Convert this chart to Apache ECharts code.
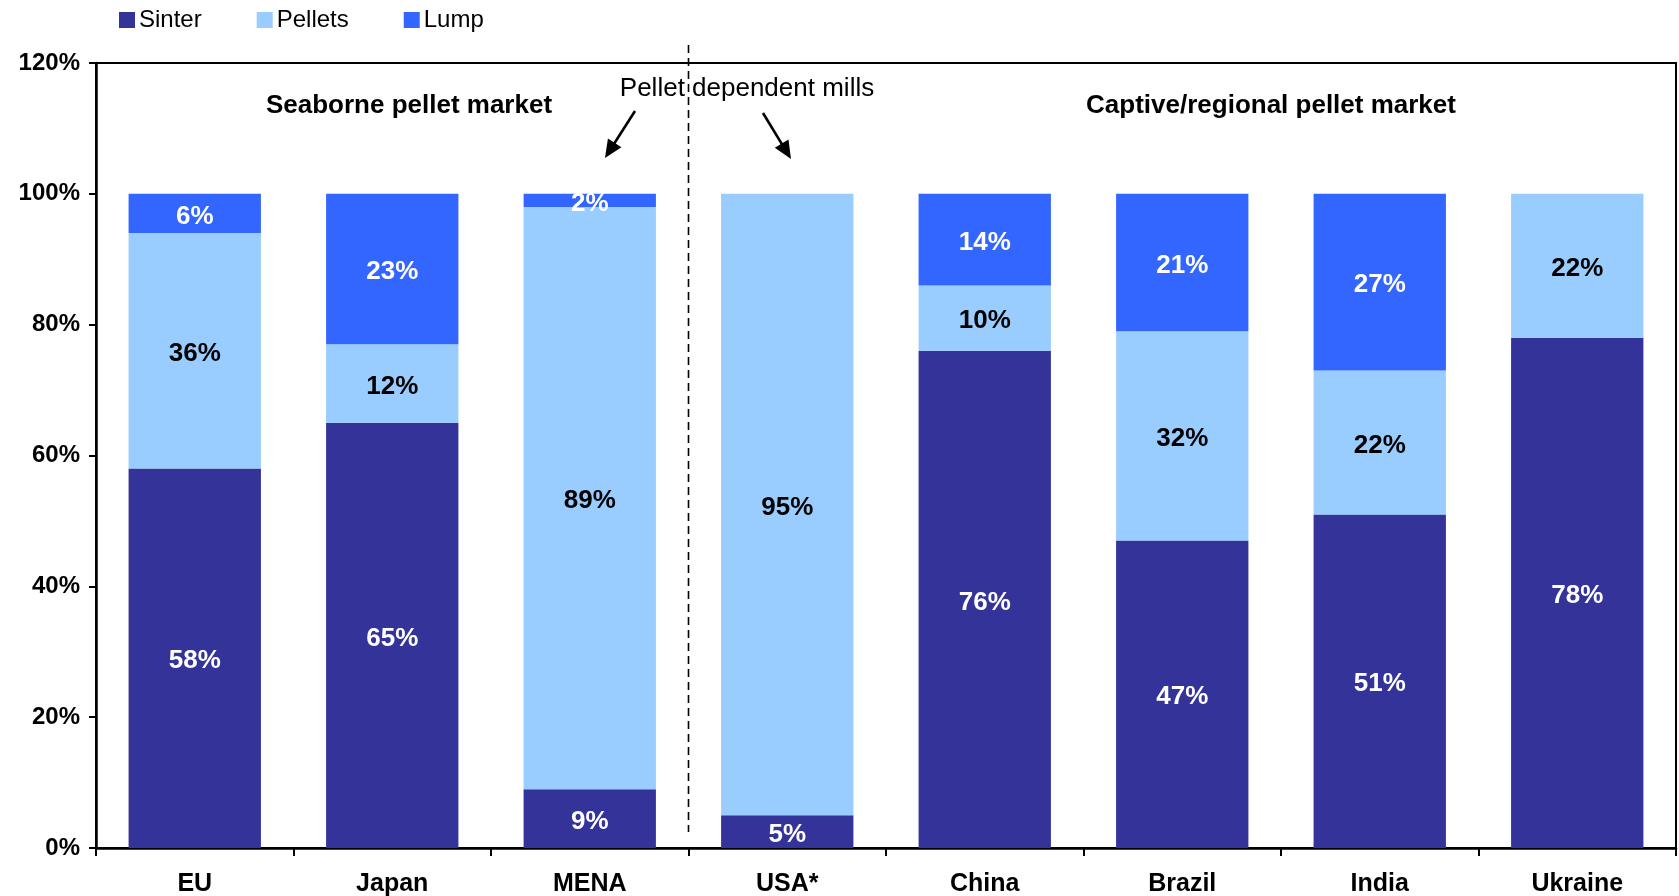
<!DOCTYPE html>
<html>
<head>
<meta charset="utf-8">
<title>Sinter, pellets and lump share by region</title>
<script src="https://cdn.jsdelivr.net/npm/echarts@6/dist/echarts.min.js"></script>
<style>
  html, body { margin: 0; padding: 0; background: #fff; }
  #chart { width: 1679px; height: 896px; }
</style>
</head>
<body>
<div id="chart"></div>
<script>
// Burden mix of blast furnaces by region (% of iron-bearing feed)
const regions = ['EU', 'Japan', 'MENA', 'USA*', 'China', 'Brazil', 'India', 'Ukraine'];
const sinter  = [58, 65, 9, 5, 76, 47, 51, 78];
const pellets = [36, 12, 89, 95, 10, 32, 22, 22];
const lump    = [6, 23, 2, 0, 14, 21, 27, 0];
const yTicks  = [0, 20, 40, 60, 80, 100, 120];

const FONT = '"Liberation Sans", Arial, sans-serif';
const COLORS = { sinter: '#333399', pellets: '#99CCFF', lump: '#3366FF' };

function segLabel(color) {
  return {
    show: true,
    position: 'inside',
    offset: [0, 3],
    color: color,
    fontFamily: FONT,
    fontWeight: 'bold',
    fontSize: 26,
    formatter: p => (p.value > 0 ? p.value + '%' : '')
  };
}

function barSeries(name, data, color, labelColor) {
  return {
    name: name,
    type: 'bar',
    stack: 'mix',
    barWidth: '67%',
    data: data,
    itemStyle: { color: color },
    label: segLabel(labelColor),
    emphasis: { disabled: true }
  };
}

// Arrow made of a shaft and a filled head, pointing from (x1,y1) to (x2,y2)
function arrow(x1, y1, x2, y2) {
  const dx = x2 - x1, dy = y2 - y1;
  const len = Math.sqrt(dx * dx + dy * dy);
  const ux = dx / len, uy = dy / len;
  const headLen = 18, headHalf = 8;
  const bx = x2 - ux * headLen, by = y2 - uy * headLen;
  return [
    {
      type: 'line',
      shape: { x1: x1, y1: y1, x2: bx + ux * 2, y2: by + uy * 2 },
      style: { stroke: '#000', lineWidth: 2.6 }
    },
    {
      type: 'polygon',
      shape: {
        points: [
          [x2, y2],
          [bx - uy * headHalf, by + ux * headHalf],
          [bx + uy * headHalf, by - ux * headHalf]
        ]
      },
      style: { fill: '#000' }
    }
  ];
}

const chart = echarts.init(document.getElementById('chart'), null, { renderer: 'canvas' });

const option = {
  animation: false,
  backgroundColor: '#fff',
  textStyle: { fontFamily: FONT },
  legend: {
    left: 114,
    top: 3,
    icon: 'rect',
    itemWidth: 16,
    itemHeight: 16,
    itemGap: 55,
    textStyle: { fontFamily: FONT, fontSize: 24, color: '#000', padding: [0, 0, 0, -1] },
    data: ['Sinter', 'Pellets', 'Lump']
  },
  grid: {
    left: 96,
    right: 3,
    top: 63,
    bottom: 48,
    outerBoundsMode: 'none',
    containLabel: false,
    show: true,
    borderColor: '#000',
    borderWidth: 2,
    backgroundColor: 'transparent'
  },
  xAxis: {
    type: 'category',
    data: regions,
    axisLine: { lineStyle: { color: '#000', width: 2.5 } },
    axisTick: { show: true, length: 8, alignWithLabel: false, lineStyle: { color: '#000', width: 2 } },
    axisLabel: {
      margin: 24,
      color: '#000',
      fontFamily: FONT,
      fontWeight: 'bold',
      fontSize: 25
    },
    splitLine: { show: false }
  },
  yAxis: {
    type: 'value',
    min: yTicks[0],
    max: yTicks[yTicks.length - 1],
    interval: 20,
    axisLine: { show: true, lineStyle: { color: '#000', width: 2.5 } },
    axisTick: { show: true, length: 7, lineStyle: { color: '#000', width: 2 } },
    axisLabel: {
      margin: 16,
      color: '#000',
      fontFamily: FONT,
      fontWeight: 'bold',
      fontSize: 24,
      formatter: v => v + '%'
    },
    splitLine: { show: false }
  },
  series: [
    barSeries('Sinter', sinter, COLORS.sinter, '#fff'),
    barSeries('Pellets', pellets, COLORS.pellets, '#000'),
    barSeries('Lump', lump, COLORS.lump, '#fff')
  ]
};

chart.setOption(option);

// Annotations: market split divider, group headings and arrows
const divX = (chart.convertToPixel({ xAxisIndex: 0 }, 2) + chart.convertToPixel({ xAxisIndex: 0 }, 3)) / 2;
const yBottom = chart.convertToPixel({ yAxisIndex: 0 }, 0);

const graphics = [
  {
    type: 'line',
    shape: { x1: divX, y1: 45, x2: divX, y2: yBottom - 16 },
    style: { stroke: '#000', lineWidth: 1.6, lineDash: [8, 5] },
    z: 10
  },
  {
    type: 'text',
    x: 409, y: 106,
    style: {
      text: 'Seaborne pellet market',
      fontFamily: FONT, fontWeight: 'bold', fontSize: 26,
      fill: '#000', align: 'center', verticalAlign: 'middle'
    }
  },
  {
    type: 'text',
    x: 1271, y: 106,
    style: {
      text: 'Captive/regional pellet market',
      fontFamily: FONT, fontWeight: 'bold', fontSize: 26,
      fill: '#000', align: 'center', verticalAlign: 'middle'
    }
  },
  {
    type: 'text',
    x: 747, y: 89,
    z: 12,
    style: {
      text: 'Pellet dependent mills',
      fontFamily: FONT, fontSize: 26,
      fill: '#000', align: 'center', verticalAlign: 'middle'
    }
  }
].concat(arrow(635, 111, 605, 158), arrow(763, 113, 791, 159));

chart.setOption({ graphic: graphics });
</script>
</body>
</html>
